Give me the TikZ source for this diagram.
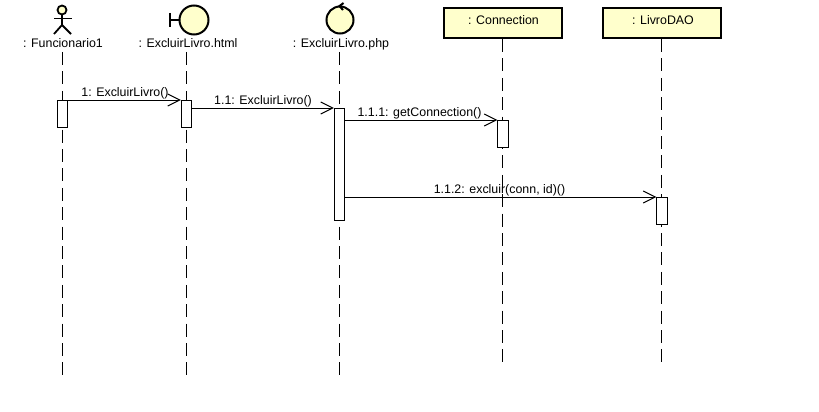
\documentclass[tikz,border=0pt]{standalone}
\usepackage{fontspec}
\setmainfont{Liberation Sans}
\usepackage{tikz}
\usetikzlibrary{arrows.meta}
\definecolor{umlfill}{HTML}{FFFFCC}
\tikzset{
  lifehead/.style={draw=none,inner sep=0pt,anchor=base,font=\fontsize{12.4}{14}\selectfont},
  objbox/.style={draw,line width=2pt,fill=umlfill,minimum width=118pt,minimum height=30pt,inner sep=0pt},
  bar/.style={draw,line width=1pt,fill=white,minimum width=10.5pt,inner sep=0pt,anchor=north},
  lifeline/.style={line width=1pt,dash pattern=on 13pt off 6.4pt},
  msg/.style={line width=1pt,-{Straight Barb[length=12pt,width=12pt,line width=1pt]}},
  msglabel/.style={inner sep=0pt,anchor=base,font=\fontsize{12.4}{14}\selectfont},
  sym/.style={line width=2pt}
}
\begin{document}
\begin{tikzpicture}[x=1pt,y=-1pt]
\useasboundingbox (0,0) rectangle (819,412);

% lifeline heads
\node[lifehead] (funcLabel) at (63,48) {: Funcionario1};
\node[lifehead] (htmlLabel) at (188,48) {: ExcluirLivro.html};
\node[lifehead] (phpLabel) at (341,48) {: ExcluirLivro.php};
\node[objbox] (connBox) at (502.5,23) {};
\node[objbox] (daoBox) at (661.5,23) {};
\node[msglabel] (connLabel) at (503.5,25) {: Connection};
\node[msglabel] (daoLabel) at (663,25) {: LivroDAO};

% lifeline ends
\coordinate (funcTop) at (62,52);
\coordinate (htmlTop) at (186,52);
\coordinate (phpTop) at (339,52);
\coordinate (funcEnd) at (62,376);
\coordinate (htmlEnd) at (186,376);
\coordinate (phpEnd) at (339,376);
\coordinate (connEnd) at (502,364);
\coordinate (daoEnd) at (661,364);

\draw[lifeline] (funcTop) -- (funcEnd);
\draw[lifeline] (htmlTop) -- (htmlEnd);
\draw[lifeline] (phpTop) -- (phpEnd);
\draw[lifeline] (connBox.south -| connEnd) -- (connEnd);
\draw[lifeline] (daoBox.south -| daoEnd) -- (daoEnd);

% actor
\node[draw,circle,line width=1.8pt,fill=umlfill,minimum size=9pt,inner sep=0pt] (actorHead) at (62,10) {};
\draw[line width=1.8pt] (actorHead.south) -- (62,25);
\draw[line width=1.8pt] (54,18.5) -- (72,18.5);
\draw[line width=1.8pt] (54,34) -- (62,25) -- (71,34);

% boundary
\node[draw,circle,sym,fill=umlfill,minimum size=29pt,inner sep=0pt] (boundCirc) at (194,20) {};
\draw[sym] (170,13) -- (170,27);
\draw[sym] (170,20) -- (boundCirc.west);

% control
\node[draw,circle,sym,fill=umlfill,minimum size=27pt,inner sep=0pt] (ctrlCirc) at (340,20) {};
\draw[sym] (343.5,3) -- (339.5,6) -- (343,10);

% activations
\node[bar,minimum height=27pt] (funcBar) at (62.5,100) {};
\node[bar,minimum height=27pt] (htmlBar) at (186.5,100) {};
\node[bar,minimum height=112pt] (phpBar) at (339.5,108) {};
\node[bar,minimum height=27pt] (connBar) at (503,120) {};
\node[bar,minimum height=27pt] (daoBar) at (662,197) {};

% messages
\draw[msg] (funcBar.north east) -- (htmlBar.north west);
\draw[msg] (htmlBar.east |- phpBar.north) -- (phpBar.north west);
\draw[msg] (phpBar.east |- connBar.north) -- (connBar.north west);
\draw[msg] (phpBar.east |- daoBar.north) -- (daoBar.north west);
\node[msglabel] (msgOne) at (125,96) {1: ExcluirLivro()};
\node[msglabel] (msgTwo) at (263,104) {1.1: ExcluirLivro()};
\node[msglabel] (msgThree) at (419.5,116) {1.1.1: getConnection()};
\node[msglabel] (msgFour) at (499.5,193) {1.1.2: excluir(conn, id)()};

\end{tikzpicture}
\end{document}
